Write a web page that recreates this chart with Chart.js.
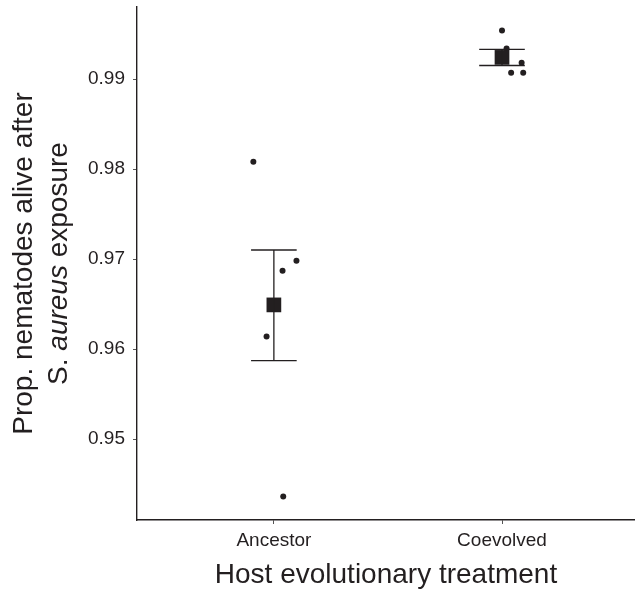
<!DOCTYPE html>
<html>
<head>
<meta charset="utf-8">
<script src="https://cdn.jsdelivr.net/npm/chart.js@4.4.1/dist/chart.umd.min.js"></script>
<style>
  html, body { margin: 0; padding: 0; background: #fff; }
  canvas { display: block; }
</style>
</head>
<body>
<canvas id="chart" width="635" height="592"></canvas>
<script>
// ── Data ──
const categories = ['Ancestor', 'Coevolved']
const ancestorValues = [0.9808, 0.9687, 0.9698, 0.9614, 0.9436]
const ancestorJitter = [-0.09, 0.038, 0.099, -0.032, 0.041]
const coevolvedValues = [0.9954, 0.9934, 0.9918, 0.9907, 0.9907]
const coevolvedJitter = [0.0, 0.02, 0.086, 0.04, 0.093]
const groupMeans = [0.9649, 0.9924]
const errLow = [0.9587, 0.9915]
const errHigh = [0.9710, 0.9933]
const yTicks = [0.95, 0.96, 0.97, 0.98, 0.99]

// ── Styles ──
const INK = '#231f20'
const FONT = "'Liberation Sans', Arial, Helvetica, sans-serif"
const CAP = 0.1

const points = [
  ...ancestorValues.map((y, i) => ({ x: 1 + ancestorJitter[i], y })),
  ...coevolvedValues.map((y, i) => ({ x: 2 + coevolvedJitter[i], y }))
]

function segment (a, b) {
  return {
    type: 'line',
    data: [{ x: a[0], y: a[1] }, { x: b[0], y: b[1] }],
    borderColor: INK, borderWidth: 1.3,
    pointRadius: 0, showLine: true, fill: false
  }
}

const errorBarSets = []
categories.forEach((c, i) => {
  const x = i + 1
  errorBarSets.push(segment([x, errLow[i]], [x, errHigh[i]]))
  errorBarSets.push(segment([x - CAP, errHigh[i]], [x + CAP, errHigh[i]]))
  errorBarSets.push(segment([x - CAP, errLow[i]], [x + CAP, errLow[i]]))
})

// y-axis title with italic species name
function drawRotatedLine (ctx, x, cy, parts) {
  const widths = parts.map(p => {
    ctx.font = (p.italic ? 'italic ' : '') + '28px ' + FONT
    return ctx.measureText(p.text).width
  })
  const total = widths.reduce((s, w) => s + w, 0)
  ctx.save()
  ctx.translate(x, cy)
  ctx.rotate(-Math.PI / 2)
  let pos = -total / 2
  parts.forEach((p, i) => {
    ctx.font = (p.italic ? 'italic ' : '') + '28px ' + FONT
    ctx.fillText(p.text, pos, 0)
    pos += widths[i]
  })
  ctx.restore()
}

const yTitlePlugin = {
  id: 'yTitle',
  afterDraw (chart) {
    const { ctx, chartArea } = chart
    const cy = (chartArea.top + chartArea.bottom) / 2
    ctx.save()
    ctx.fillStyle = INK
    ctx.textBaseline = 'alphabetic'
    ctx.textAlign = 'left'
    drawRotatedLine(ctx, 32, cy, [{ text: 'Prop. nematodes alive after' }])
    drawRotatedLine(ctx, 66.5, cy, [{ text: 'S. ' }, { text: 'aureus', italic: true }, { text: ' exposure' }])
    ctx.restore()
  }
}

function noPadding (s) {
  s.paddingTop = 0; s.paddingBottom = 0; s.paddingLeft = 0; s.paddingRight = 0
}

const axisGrid = { drawOnChartArea: false, drawTicks: true, tickLength: 4, color: '#555', lineWidth: 1 }
const axisBorder = { display: true, color: INK, width: 1.4 }

new Chart(document.getElementById('chart'), {
  type: 'scatter',
  data: {
    datasets: [
      ...errorBarSets,
      {
        data: groupMeans.map((y, i) => ({ x: i + 1, y })),
        pointStyle: 'rect', pointRadius: 10.4,
        backgroundColor: INK, borderColor: INK, borderWidth: 0
      },
      {
        data: points,
        pointRadius: 3, backgroundColor: INK, borderColor: INK, borderWidth: 0
      }
    ]
  },
  options: {
    responsive: false, animation: false, devicePixelRatio: 1,
    layout: { autoPadding: false, padding: { top: 7, right: 0, left: 0, bottom: 0 } },
    plugins: { legend: { display: false }, tooltip: { enabled: false } },
    scales: {
      x: {
        type: 'linear', min: 0.4, max: 2.583,
        afterBuildTicks: s => { s.ticks = categories.map((_, i) => ({ value: i + 1 })) },
        ticks: {
          callback: v => categories[v - 1],
          font: { size: 19, family: FONT }, color: INK, padding: 5,
          maxRotation: 0, autoSkip: false
        },
        grid: axisGrid,
        border: axisBorder,
        title: {
          display: true, text: 'Host evolutionary treatment',
          font: { size: 28, family: FONT }, color: INK,
          padding: { top: 0, bottom: 0 }
        },
        afterFit: s => { s.height = 72; noPadding(s) }
      },
      y: {
        min: 0.941, max: 0.998,
        afterBuildTicks: s => { s.ticks = yTicks.map(v => ({ value: v })) },
        ticks: {
          callback: v => v.toFixed(2),
          font: { size: 19, family: FONT }, color: INK, padding: 8
        },
        grid: axisGrid,
        border: axisBorder,
        afterFit: s => { s.width = 137; noPadding(s) }
      }
    }
  },
  plugins: [yTitlePlugin]
})
</script>
</body>
</html>
